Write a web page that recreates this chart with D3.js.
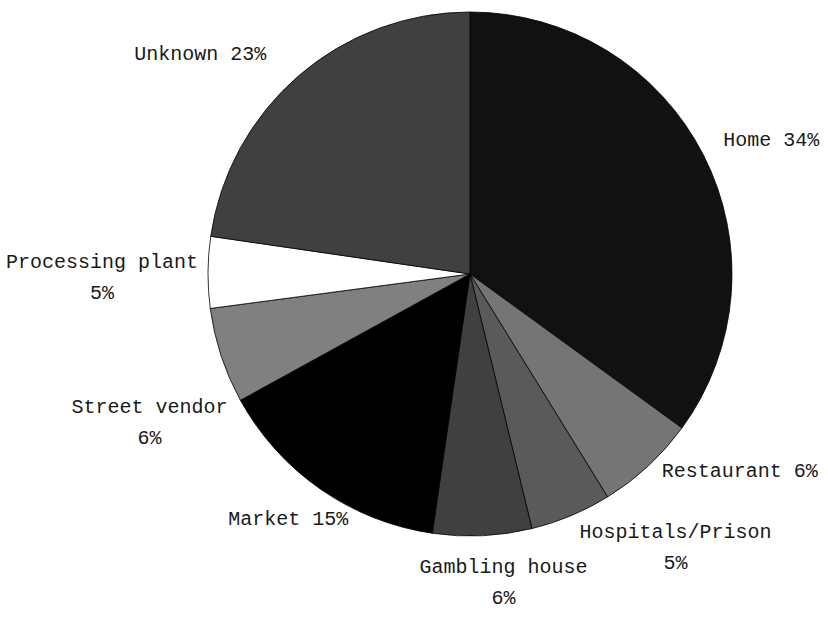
<!DOCTYPE html>
<html>
<head>
<meta charset="utf-8">
<script src="https://cdn.jsdelivr.net/npm/d3@7"></script>
<style>
  body { margin: 0; background: #fff; }
  svg { display: block; }
</style>
</head>
<body>
<div class="pie-chart"></div>
<script>
// slice data, clockwise from 12 o'clock
var categories = ["Home", "Restaurant", "Hospitals/Prison", "Gambling house",
                  "Market", "Street vendor", "Processing plant", "Unknown"];
var values = [35.0, 6.2, 5.0, 6.1, 14.7, 5.9, 4.4, 22.7];
var percentLabels = ["34%", "6%", "5%", "6%", "15%", "6%", "5%", "23%"];
// label text split into lines (true = percent goes on its own line)
var twoLine = [false, false, true, true, false, true, true, false];

var width = 828;
var height = 617;
var radius = 262;
var cx = 470, cy = 274;

var fills = ["#111111", "#757575", "#5a5a5a", "#404040",
             "#000000", "#808080", "#ffffff", "#404040"];

// small tweaks so labels sit where the original had them
var labelNudge = [[25, 6], [59, -31], [86, -15], [19, -4],
                  [-5, -11], [-26, 49], [-58, 3], [-67, 13]];

var svg = d3.select(".pie-chart")
            .append("svg")
              .attr("width", width)
              .attr("height", height);

var pie = d3.pie()
            .sort(null)
            .value(function(d) { return d; });

var arcs = pie(values);

var arc = d3.arc()
            .innerRadius(0)
            .outerRadius(radius);

var labelArc = d3.arc()
                 .innerRadius(310)
                 .outerRadius(310);

var g = svg.append("g")
           .attr("transform", "translate(" + cx + "," + cy + ")");

g.selectAll("path")
  .data(arcs)
  .enter()
  .append("path")
  .attr("d", arc)
  .attr("fill", function(d, i) { return fills[i]; })
  .attr("stroke", "#000")
  .attr("stroke-width", 0.8);

// labels
var labels = g.selectAll("text")
  .data(arcs)
  .enter()
  .append("text")
  .attr("font-family", "'Liberation Mono', 'DejaVu Sans Mono', monospace")
  .attr("font-size", "20px")
  .attr("fill", "#1a1a1a")
  .attr("text-anchor", "middle")
  .attr("transform", function(d, i) {
    var c = labelArc.centroid(d);
    return "translate(" + (c[0] + labelNudge[i][0]) + "," + (c[1] + labelNudge[i][1]) + ")";
  });

labels.each(function(d, i) {
  var t = d3.select(this);
  if (twoLine[i]) {
    t.append("tspan").attr("x", 0).attr("y", -7).text(categories[i]);
    t.append("tspan").attr("x", 0).attr("y", 24).text(percentLabels[i]);
  } else {
    t.append("tspan").attr("x", 0).attr("y", 7).text(categories[i] + " " + percentLabels[i]);
  }
});
</script>
</body>
</html>
